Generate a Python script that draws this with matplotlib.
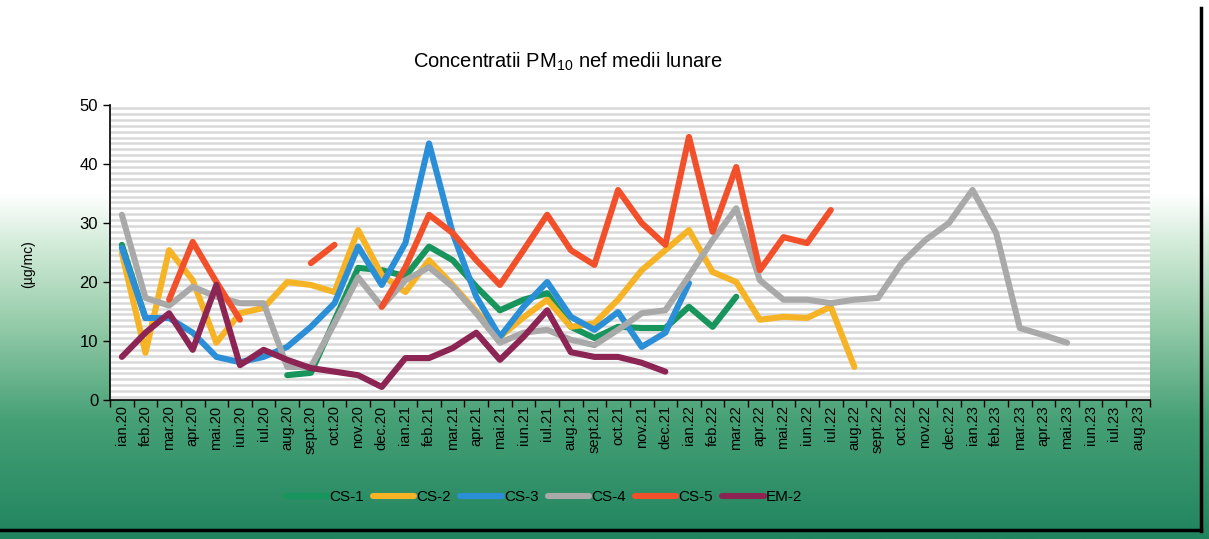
#!/usr/bin/env python3
"""Monthly mean PM10 concentrations per station, 2020-2023."""

import numpy as np
import matplotlib

matplotlib.use("Agg")
import matplotlib.pyplot as plt
from matplotlib.lines import Line2D

plt.rcParams["font.family"] = ["Liberation Sans", "DejaVu Sans"]
plt.rcParams["mathtext.default"] = "regular"

nan = np.nan

months = [
    "ian.20", "feb.20", "mar.20", "apr.20", "mai.20", "iun.20", "iul.20", "aug.20",
    "sept.20", "oct.20", "nov.20", "dec.20",
    "ian.21", "feb.21", "mar.21", "apr.21", "mai.21", "iun.21", "iul.21", "aug.21",
    "sept.21", "oct.21", "nov.21", "dec.21",
    "ian.22", "feb.22", "mar.22", "apr.22", "mai.22", "iun.22", "iul.22", "aug.22",
    "sept.22", "oct.22", "nov.22", "dec.22",
    "ian.23", "feb.23", "mar.23", "apr.23", "mai.23", "iun.23", "iul.23", "aug.23",
]

cs1 = [26.3, 13.9, nan, nan, nan, nan, nan, 4.2, 4.6, 13.5, 22.4, 22.0,
       21.0, 26.0, 23.7, 19.2, 15.2, 17.0, 18.1, 12.4, 10.5, 12.4, 12.2, 12.2,
       15.8, 12.4, 17.5] + [nan] * 17
cs2 = [24.9, 8.0, 25.4, 20.3, 9.7, 14.7, 15.6, 20.0, 19.5, 18.3, 28.8, 21.2,
       18.3, 23.7, 19.5, 15.0, 10.7, 14.0, 17.0, 12.4, 13.0, 17.0, 22.0, 25.4,
       28.8, 21.7, 20.0, 13.6, 14.1, 13.9, 15.8, 5.6] + [nan] * 12
cs3 = [25.8, 13.9, 13.9, 11.4, 7.3, 6.4, 7.3, 9.0, 12.4, 16.4, 26.0, 19.5,
       26.6, 43.5, 28.3, 17.5, 10.7, 15.8, 20.0, 14.1, 11.9, 14.9, 9.0, 11.4,
       19.8] + [nan] * 19
cs4 = [31.4, 17.3, 16.0, 19.2, 17.5, 16.4, 16.4, 5.6, 5.6, 13.0, 20.8, 15.8,
       20.3, 22.5, 19.2, 14.7, 9.7, 11.4, 11.9, 10.2, 9.3, 11.9, 14.7, 15.2,
       21.0, 27.1, 32.5, 20.3, 17.0, 17.0, 16.4, 17.0, 17.3, 23.2, 27.1, 30.0,
       35.6, 28.3, 12.2, 11.0, 9.7, nan, nan, nan]
cs5 = [nan, nan, 17.0, 26.8, 20.0, 13.6, nan, nan, 23.2, 26.3, nan, 15.8,
       22.5, 31.4, 28.3, 23.7, 19.5, 25.4, 31.4, 25.4, 22.9, 35.6, 30.0, 26.3,
       44.6, 28.5, 39.5, 22.0, 27.6, 26.6, 32.2] + [nan] * 13
em2 = [7.3, 11.4, 14.7, 8.5, 19.5, 5.9, 8.5, 6.8, 5.4, 4.8, 4.2, 2.2,
       7.1, 7.1, 8.8, 11.4, 6.8, 10.7, 15.2, 8.1, 7.3, 7.3, 6.3, 4.8] + [nan] * 20

series = [
    ("CS-1", cs1, "#17955c"),
    ("CS-2", cs2, "#f6b325"),
    ("CS-3", cs3, "#2b8fd8"),
    ("CS-4", cs4, "#a9a9a9"),
    ("CS-5", cs5, "#f2502b"),
    ("EM-2", em2, "#8c2454"),
]

fig = plt.figure(figsize=(12.09, 5.39), dpi=100)

# page background: white at the top fading into green at the bottom
bg = fig.add_axes([0, 0, 1, 1], zorder=0)
ys = np.linspace(0, 1, 300)
stops_y = [0.0, 0.36, 0.45, 0.60, 0.78, 1.0]
stops_c = np.array([
    [255, 255, 255], [255, 255, 255], [212, 236, 218],
    [150, 204, 170], [70, 160, 118], [32, 132, 94],
]) / 255.0
grad = np.stack([np.interp(ys, stops_y, stops_c[:, k]) for k in range(3)], axis=-1)
bg.imshow(grad[:, None, :], aspect="auto", extent=[0, 1, 1, 0])
bg.set_xlim(0, 1)
bg.set_ylim(1, 0)
bg.axis("off")

ax = fig.add_axes([0.091, 0.258, 0.86, 0.547], zorder=1)
ax.set_facecolor("white")
x = np.arange(len(months))

# striped plot area
ax.hlines(np.arange(0.5, 50, 1.0), -0.5, len(months) - 0.5,
          colors="#d9d9d9", linewidth=1.8, zorder=1)

for name, vals, color in series:
    ax.plot(x, vals, color=color, linewidth=4.4, solid_capstyle="round",
            solid_joinstyle="round", label=name, zorder=3)

ax.set_xlim(-0.5, len(months) - 0.5)
ax.set_ylim(0, 50)
ax.set_yticks(range(0, 51, 10))
ax.set_xticks(x)
ax.set_xticklabels(months, rotation=90, fontsize=10.5)
ax.set_xticks(np.arange(-0.5, len(months), 1.0), minor=True)
ax.tick_params(axis="x", which="major", length=0, pad=4)
ax.tick_params(axis="x", which="minor", length=5, direction="out", width=1)
ax.tick_params(axis="y", labelsize=12, length=5, width=1)
for side in ("top", "right"):
    ax.spines[side].set_visible(False)
for side in ("left", "bottom"):
    ax.spines[side].set_linewidth(1.2)
ax.set_ylabel("(µg/mc)", fontsize=10)
ax.yaxis.set_label_coords(-0.072, 0.46)

fig.text(0.47, 0.885, "Concentratii PM$_{10}$ nef medii lunare",
         ha="center", va="center", fontsize=14.5)

fig.legend(loc="center", bbox_to_anchor=(0.45, 0.078), ncol=6, frameon=False,
           fontsize=11, handlelength=2.7, handletextpad=0.15, columnspacing=0.6)

# scan border
fig.add_artist(Line2D([0.993, 0.993], [0.015, 0.985], color="black", linewidth=2.5))
fig.add_artist(Line2D([0.0, 0.993], [0.017, 0.017], color="black", linewidth=2.5))

fig.savefig("out.png", dpi=100)
